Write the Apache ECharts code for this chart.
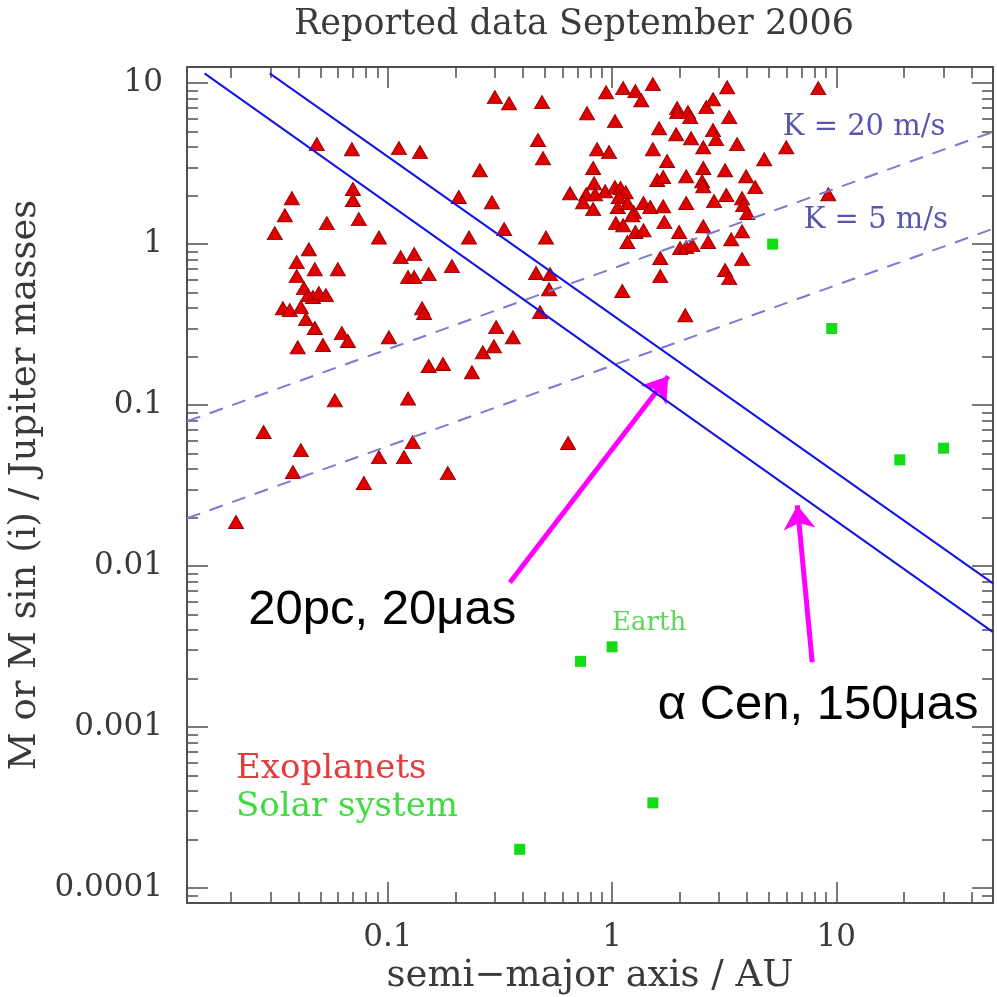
<!DOCTYPE html>
<html><head><meta charset="utf-8">
<script src="https://cdn.jsdelivr.net/npm/echarts@6/dist/echarts.min.js"></script>
<style>html,body{margin:0;padding:0;background:#fff}#c{width:997px;height:997px}</style>
</head><body><div id="c"></div><script>
// ---- Data ----
const exoA = [0.0482,0.0691,0.112,0.139,0.257,0.0373,0.0698,0.0698,0.207,0.0347,
  0.0534,0.0742,0.0313,0.0912,0.230,0.0444,0.0392,0.0472,0.0598,0.114,
  0.131,0.0392,0.193,0.123,0.131,0.152,0.0422,0.0440,0.0463,0.0492,
  0.0529,0.0340,0.0365,0.0409,0.142,0.145,0.0431,0.0472,0.0623,0.0663,
  0.101,0.0396,0.0513,0.152,0.176,0.237,0.0580,0.123,0.0279,0.0409,
  0.129,0.0912,0.118,0.0377,0.185,0.0781,0.0210,0.300,0.347,0.487,
  0.940,1.12,1.27,1.52,1.35,3.26,1.95,1.95,2.18,2.23,
  2.63,2.82,0.773,1.03,3.33,1.62,1.93,2.25,2.82,2.91,
  2.55,3.61,5.98,0.467,0.857,0.969,1.52,4.77,0.492,0.823,
  1.76,2.55,3.19,3.96,1.59,1.69,2.14,2.52,2.55,4.35,
  0.831,0.649,0.766,0.840,0.931,1.03,1.09,1.15,0.742,0.823,
  1.07,1.06,1.17,1.38,1.48,1.69,1.25,1.23,2.14,2.85,
  3.23,3.80,3.84,4.01,1.04,1.12,1.71,1.27,1.38,1.17,
  1.99,2.55,3.80,2.68,3.40,2.01,2.14,2.28,1.64,3.80,
  0.330,0.291,0.507,0.458,0.529,0.523,1.64,3.19,3.33,1.11,
  0.477,2.12,0.304,0.361,0.297,0.265,9.21,8.31,0.636];
const exoM = [4.18,3.89,3.95,3.73,2.88,1.93,2.20,1.88,1.96,1.51,
  1.35,1.43,1.17,1.10,1.10,0.93,0.773,0.699,0.699,0.830,
  0.867,0.633,0.730,0.624,0.624,0.651,0.533,0.482,0.469,0.496,
  0.482,0.400,0.389,0.406,0.400,0.373,0.342,0.301,0.280,0.250,
  0.264,0.229,0.236,0.175,0.180,0.160,0.107,0.110,0.0680,0.0525,
  0.0589,0.0475,0.0475,0.0384,0.0378,0.0328,0.0188,8.19,7.51,7.62,
  8.79,9.31,8.92,9.86,7.84,9.44,7.00,6.61,6.61,6.15,
  7.10,7.95,6.51,5.81,6.15,5.25,4.82,4.55,5.11,4.49,
  4.00,4.18,4.00,4.43,3.89,3.73,3.89,3.37,3.42,2.97,
  3.28,2.97,2.88,2.64,2.50,2.61,2.64,2.46,2.29,2.26,
  2.39,2.07,2.04,2.04,2.13,2.26,2.23,2.10,1.82,1.65,
  1.96,1.70,1.80,1.80,1.70,1.72,1.58,1.51,1.80,1.85,
  2.02,1.93,1.75,1.56,1.35,1.31,1.37,1.19,1.22,1.03,
  1.19,1.29,1.20,1.03,1.07,0.944,0.958,0.986,0.819,0.807,
  1.24,1.82,1.10,0.661,0.651,0.525,0.633,0.690,0.615,0.511,
  0.378,0.362,0.305,0.264,0.232,0.213,2.04,9.31,0.0581];

const solarNames = ['Mercury','Venus','Earth','Mars','Jupiter','Saturn','Uranus','Neptune'];
const solarA = [0.387,0.723,1.0,1.52,5.20,9.54,19.2,30.1];
const solarM = [0.000174,0.00256,0.00315,0.000338,1.0,0.299,0.0457,0.054];

// radial-velocity limits (dashed)
const k20A = [0.0127, 50];
const k20M = [0.0793, 4.98];
const k5A = [0.0127, 50];
const k5M = [0.0198, 1.245];
// astrometric limits (solid blue)
const astro1A = [0.0152, 50];
const astro1M = [11.5, 0.00389];
const astro2A = [0.0297, 50];
const astro2M = [11.5, 0.0078];

// arrows (tail -> head)
const arrowTailA = [0.35, 7.81];
const arrowTailM = [0.0079, 0.00253];
const arrowHeadA = [1.78, 6.70];
const arrowHeadM = [0.151, 0.0239];

// annotation texts
const noteText = ['20pc, 20\u03bcas', '\u03b1 Cen, 150\u03bcas'];
const noteA = [0.0237, 1.59];
const noteM = [0.00533, 0.00137];
const kText = ['K = 20 m/s', 'K = 5 m/s'];
const kTextA = [5.74, 7.12];
const kTextM = [5.33, 1.41];

// axes
const xRange = [0.0127, 50];
const yRange = [0.0000807, 12.6];
const xMajorTicks = [0.1, 1, 10];
const xTickLabels = ['0.1', '1', '10'];
const xMinorTicks = [0.02,0.03,0.04,0.05,0.06,0.07,0.08,0.09,
  0.2,0.3,0.4,0.5,0.6,0.7,0.8,0.9, 2,3,4,5,6,7,8,9, 20,30,40];
const yMajorTicks = [0.0001, 0.001, 0.01, 0.1, 1, 10];
const yTickLabels = ['0.0001', '0.001', '0.01', '0.1', '1', '10'];
const yMinorTicks = [0.00009,
  0.0002,0.0003,0.0004,0.0005,0.0006,0.0007,0.0008,0.0009,
  0.002,0.003,0.004,0.005,0.006,0.007,0.008,0.009,
  0.02,0.03,0.04,0.05,0.06,0.07,0.08,0.09,
  0.2,0.3,0.4,0.5,0.6,0.7,0.8,0.9,
  2,3,4,5,6,7,8,9];

// ---- Chart ----
const axisColor = '#505050';
const serif = 'DejaVu Serif';
const textColor = '#3a3a3a';

function fmt(ticks, labels) {
  return function (v) {
    for (let i = 0; i < ticks.length; i++) {
      if (Math.abs(Math.log10(ticks[i]) - Math.log10(v)) < 1e-6) return labels[i];
    }
    return '';
  };
}
function makeAxis(dim, pos, ticks, len, showLine, label) {
  const range = dim === 'x' ? xRange : yRange;
  const ax = {
    type: 'log', logBase: 10, min: range[0], max: range[1], position: pos, gridIndex: 0,
    axisLine: {show: showLine, onZero: false, lineStyle: {color: axisColor, width: 2}},
    axisTick: {show: true, inside: true, length: len, customValues: ticks,
      lineStyle: {color: axisColor, width: 1.5}},
    axisLabel: {show: false},
    splitLine: {show: false}, minorTick: {show: false}, minorSplitLine: {show: false}
  };
  if (label) {
    ax.axisLabel = Object.assign({show: true, customValues: ticks,
      fontFamily: serif, fontSize: 31, color: textColor}, label);
  }
  return ax;
}

const xMain = makeAxis('x', 'bottom', xMajorTicks, 21, true,
  {margin: 19, formatter: fmt(xMajorTicks, xTickLabels)});
xMain.name = 'semi\u2212major axis / AU';
xMain.nameLocation = 'middle';
xMain.nameGap = 55;
xMain.nameTextStyle = {fontFamily: serif, fontSize: 37, color: textColor};

const yMain = makeAxis('y', 'left', yMajorTicks, 21, true,
  {margin: 24, formatter: fmt(yMajorTicks, yTickLabels)});
yMain.name = 'M or M sin (i) / Jupiter masses';
yMain.nameLocation = 'middle';
yMain.nameGap = 131;
yMain.nameTextStyle = {fontFamily: serif, fontSize: 37, color: textColor};

const option = {
  animation: false,
  backgroundColor: '#ffffff',
  title: {
    text: 'Reported data September 2006',
    left: 569, top: 2, textAlign: 'center',
    textStyle: {fontFamily: serif, fontSize: 35, fontWeight: 'normal', color: textColor}
  },
  legend: {
    orient: 'vertical', left: 226, top: 747, itemGap: 4,
    icon: 'none', itemWidth: 0, itemHeight: 0,
    textStyle: {fontFamily: serif, fontSize: 34},
    data: [
      {name: 'Exoplanets', textStyle: {color: '#e23c3c'}},
      {name: 'Solar system', textStyle: {color: '#3fdc3f'}}
    ],
    selectedMode: false
  },
  grid: {left: 187, right: 4, top: 67, bottom: 94, containLabel: false, outerBoundsMode: 'none'},
  xAxis: [
    xMain,
    makeAxis('x', 'bottom', xMinorTicks, 11, false),
    makeAxis('x', 'top', xMajorTicks, 21, true),
    makeAxis('x', 'top', xMinorTicks, 11, false)
  ],
  yAxis: [
    yMain,
    makeAxis('y', 'left', yMinorTicks, 11, false),
    makeAxis('y', 'right', yMajorTicks, 21, true),
    makeAxis('y', 'right', yMinorTicks, 11, false)
  ],
  series: [
    {
      name: 'Exoplanets', type: 'scatter', xAxisIndex: 0, yAxisIndex: 0,
      symbol: 'triangle', symbolSize: [15, 13],
      itemStyle: {color: '#e00000', borderColor: '#9a0000', borderWidth: 1, opacity: 1},
      data: exoA.map((a, i) => [a, exoM[i]])
    },
    {
      name: 'Solar system', type: 'scatter', xAxisIndex: 0, yAxisIndex: 0,
      symbol: 'rect', symbolSize: 11,
      itemStyle: {color: '#14dc14', opacity: 1},
      data: solarA.map((a, i) => {
        const item = {name: solarNames[i], value: [a, solarM[i]]};
        if (solarNames[i] === 'Earth') {
          item.label = {show: true, formatter: 'Earth', position: 'top', align: 'left',
            distance: 5, offset: [0, 0],
            fontFamily: serif, fontSize: 26, color: '#5ad65a'};
        }
        return item;
      })
    },
    {
      name: 'K20', type: 'line', xAxisIndex: 0, yAxisIndex: 0, symbol: 'none',
      lineStyle: {color: '#7a7ad2', width: 2, type: [14, 10]},
      data: k20A.map((a, i) => [a, k20M[i]])
    },
    {
      name: 'K5', type: 'line', xAxisIndex: 0, yAxisIndex: 0, symbol: 'none',
      lineStyle: {color: '#7a7ad2', width: 2, type: [14, 10]},
      data: k5A.map((a, i) => [a, k5M[i]])
    },
    {
      name: 'astro1', type: 'line', xAxisIndex: 0, yAxisIndex: 0, symbol: 'none',
      lineStyle: {color: '#1414e6', width: 2},
      data: astro1A.map((a, i) => [a, astro1M[i]])
    },
    {
      name: 'astro2', type: 'line', xAxisIndex: 0, yAxisIndex: 0, symbol: 'none',
      lineStyle: {color: '#1414e6', width: 2},
      data: astro2A.map((a, i) => [a, astro2M[i]])
    },
    {
      name: 'arrows', type: 'lines', coordinateSystem: 'cartesian2d',
      xAxisIndex: 0, yAxisIndex: 0,
      symbol: ['none', 'arrow'], symbolSize: 24,
      lineStyle: {color: '#ff00ff', width: 5, opacity: 1},
      data: arrowTailA.map((a, i) => ({coords: [[a, arrowTailM[i]], [arrowHeadA[i], arrowHeadM[i]]]}))
    },
    {
      name: 'notes', type: 'scatter', xAxisIndex: 0, yAxisIndex: 0,
      symbol: 'circle', symbolSize: 1, itemStyle: {color: 'rgba(0,0,0,0)', opacity: 1},
      label: {show: true, position: 'right', distance: 0,
        formatter: p => noteText[p.dataIndex],
        fontFamily: 'Liberation Sans', fontSize: 49, color: '#000000'},
      data: noteA.map((a, i) => [a, noteM[i]])
    },
    {
      name: 'kLabels', type: 'scatter', xAxisIndex: 0, yAxisIndex: 0,
      symbol: 'circle', symbolSize: 1, itemStyle: {color: 'rgba(0,0,0,0)', opacity: 1},
      label: {show: true, position: 'right', distance: 0,
        formatter: p => kText[p.dataIndex],
        fontFamily: serif, fontSize: 29, color: '#5656b0'},
      data: kTextA.map((a, i) => [a, kTextM[i]])
    }
  ]
};
const chart = echarts.init(document.getElementById('c'));
chart.setOption(option);
</script></body></html>
